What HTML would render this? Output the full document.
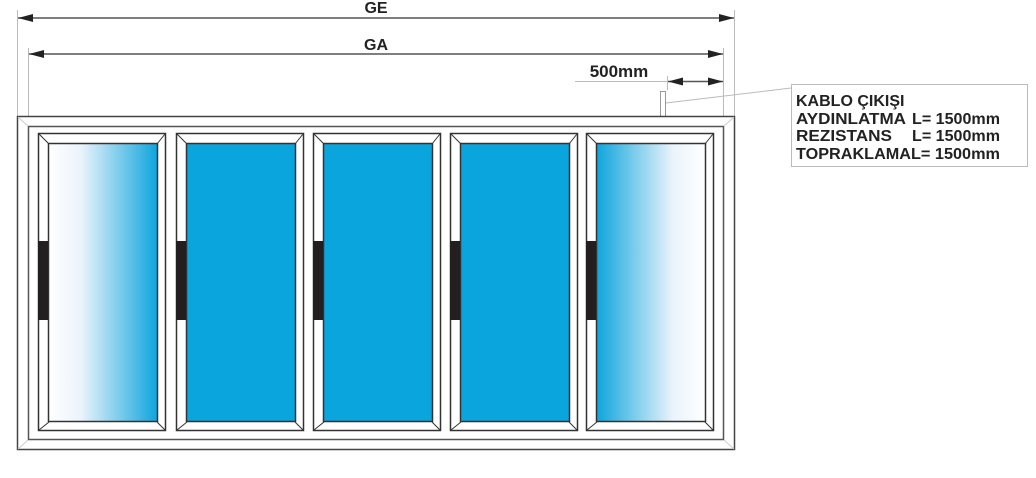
<!DOCTYPE html>
<html><head><meta charset="utf-8"><style>
html,body{margin:0;padding:0;background:#fff;width:1036px;height:478px;overflow:hidden}
text{font-family:"Liberation Sans",Arial,sans-serif;font-weight:bold;fill:#222}
</style></head><body>
<svg width="1036" height="478" viewBox="0 0 1036 478" xmlns="http://www.w3.org/2000/svg">
<defs>
<linearGradient id="gl" x1="0" y1="0" x2="1" y2="0">
<stop offset="0" stop-color="#fff"/><stop offset="0.3" stop-color="#eaf3fb"/><stop offset="1" stop-color="#0ea5dc"/></linearGradient>
<linearGradient id="gr" x1="1" y1="0" x2="0" y2="0">
<stop offset="0" stop-color="#fff"/><stop offset="0.3" stop-color="#eaf3fb"/><stop offset="1" stop-color="#0ea5dc"/></linearGradient>
</defs>
<g stroke="#bbb" stroke-width="1">
<line x1="17.5" y1="10" x2="17.5" y2="116"/>
<line x1="734.5" y1="10" x2="734.5" y2="116"/>
<line x1="28.5" y1="48" x2="28.5" y2="126"/>
<line x1="723.5" y1="48" x2="723.5" y2="126"/>
<line x1="667.5" y1="76" x2="667.5" y2="90"/>
<line x1="575" y1="81.5" x2="667" y2="81.5"/>
<line x1="666" y1="103" x2="791" y2="88"/>
</g>
<g stroke="#555" stroke-width="1.5">
<line x1="18" y1="18" x2="734" y2="18"/>
<line x1="29" y1="54" x2="723" y2="54"/>
<line x1="668" y1="81.5" x2="723" y2="81.5"/>
</g>
<g fill="#222">
<polygon points="18,18 33,14 33,22"/><polygon points="734,18 719,14 719,22"/>
<polygon points="29,54 44,50 44,58"/><polygon points="723,54 708,50 708,58"/>
<polygon points="668,81.5 683,77.5 683,85.5"/><polygon points="723,81.5 708,77.5 708,85.5"/>
</g>
<text x="376" y="13" font-size="16" text-anchor="middle">GE</text>
<text x="376" y="50" font-size="16" text-anchor="middle">GA</text>
<text x="619" y="77" font-size="17" text-anchor="middle">500mm</text>
<rect x="660.5" y="91.5" width="5" height="25" fill="#fff" stroke="#999"/>
<rect x="17.5" y="116.5" width="717" height="333" fill="#fff" stroke="#444" stroke-width="1.5"/>
<rect x="28.5" y="126.5" width="695" height="313" fill="#fff" stroke="#555" stroke-width="1.5"/>
<g stroke="#ccc"><line x1="18" y1="117" x2="28" y2="126"/><line x1="734" y1="117" x2="724" y2="126"/><line x1="18" y1="449" x2="28" y2="440"/><line x1="734" y1="449" x2="724" y2="440"/></g>
<g stroke="#333" stroke-width="1.5">
<g transform="translate(38,0)">
<rect x="0.5" y="133.5" width="127" height="297" fill="#fff"/>
<rect x="10.5" y="143.5" width="109" height="278" fill="url(#gl)"/>
<path d="M1,134 L11,144 M127,134 L119,144 M1,430 L11,422 M127,430 L119,422" stroke-width="1"/>
<rect x="0" y="241" width="10" height="79" fill="#231f20" stroke="none"/>
</g>
<g transform="translate(176,0)">
<rect x="0.5" y="133.5" width="127" height="297" fill="#fff"/>
<rect x="10.5" y="143.5" width="109" height="278" fill="#0aa5dd"/>
<path d="M1,134 L11,144 M127,134 L119,144 M1,430 L11,422 M127,430 L119,422" stroke-width="1"/>
<rect x="0" y="241" width="10" height="79" fill="#231f20" stroke="none"/>
</g>
<g transform="translate(313,0)">
<rect x="0.5" y="133.5" width="127" height="297" fill="#fff"/>
<rect x="10.5" y="143.5" width="109" height="278" fill="#0aa5dd"/>
<path d="M1,134 L11,144 M127,134 L119,144 M1,430 L11,422 M127,430 L119,422" stroke-width="1"/>
<rect x="0" y="241" width="10" height="79" fill="#231f20" stroke="none"/>
</g>
<g transform="translate(450,0)">
<rect x="0.5" y="133.5" width="127" height="297" fill="#fff"/>
<rect x="10.5" y="143.5" width="109" height="278" fill="#0aa5dd"/>
<path d="M1,134 L11,144 M127,134 L119,144 M1,430 L11,422 M127,430 L119,422" stroke-width="1"/>
<rect x="0" y="241" width="10" height="79" fill="#231f20" stroke="none"/>
</g>
<g transform="translate(586,0)">
<rect x="0.5" y="133.5" width="127" height="297" fill="#fff"/>
<rect x="10.5" y="143.5" width="109" height="278" fill="url(#gr)"/>
<path d="M1,134 L11,144 M127,134 L119,144 M1,430 L11,422 M127,430 L119,422" stroke-width="1"/>
<rect x="0" y="241" width="10" height="79" fill="#231f20" stroke="none"/>
</g>
</g>
<rect x="791.5" y="84.5" width="236" height="82" fill="#fff" stroke="#bbb"/>
<g font-size="16">
<text x="796" y="106">KABLO ÇIKIŞI</text>
<text x="796" y="124" textLength="110" lengthAdjust="spacingAndGlyphs">AYDINLATMA</text><text x="912" y="124" textLength="88" lengthAdjust="spacingAndGlyphs">L= 1500mm</text>
<text x="796" y="141" textLength="96" lengthAdjust="spacingAndGlyphs">REZISTANS</text><text x="912" y="141" textLength="88" lengthAdjust="spacingAndGlyphs">L= 1500mm</text>
<text x="796" y="159" textLength="115" lengthAdjust="spacingAndGlyphs">TOPRAKLAMA</text><text x="911" y="159" textLength="89" lengthAdjust="spacingAndGlyphs">L= 1500mm</text>
</g>
</svg>
</body></html>
